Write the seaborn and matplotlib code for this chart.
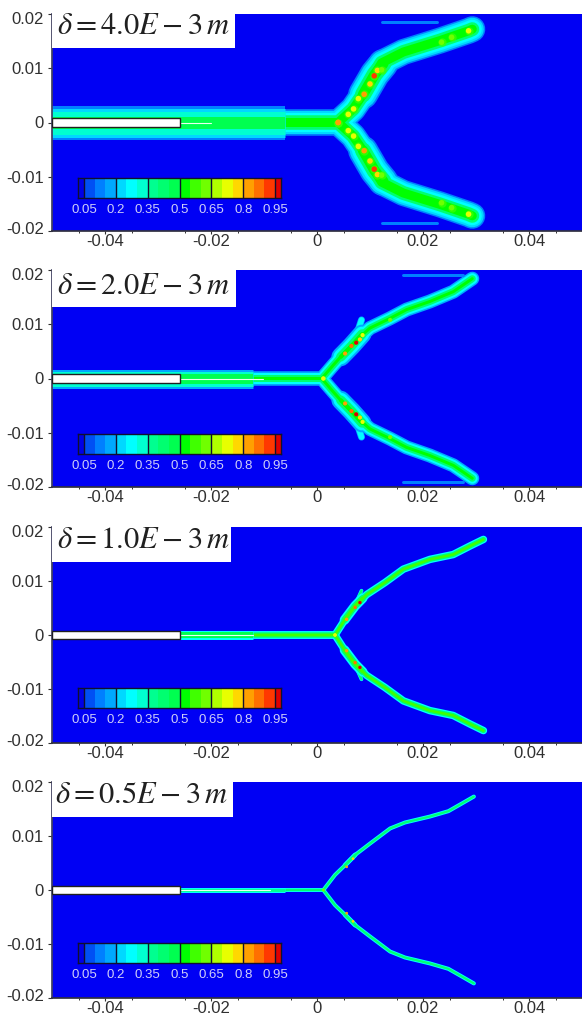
import matplotlib
matplotlib.use('Agg')
import matplotlib.pyplot as plt
import numpy as np
import pandas as pd
import seaborn as sns
from matplotlib.colors import ListedColormap
from matplotlib.patches import Rectangle
from matplotlib.transforms import ScaledTranslation

W, H = 582, 1015

# contour levels of the legend, 0 to 1 in steps of 0.05
level_colors = ['#0000e8', '#0050f4', '#0080ff', '#00a8ff', '#00d8ff', '#00ffff', '#00ffd0',
                '#00ff90', '#00ff70', '#00ff50', '#00ff00', '#40ff00', '#70ff00', '#b0ff00',
                '#e8ff00', '#ffd800', '#ffa000', '#ff7000', '#ff3800', '#e00000']
level_labels = ['0.05', '0.2', '0.35', '0.5', '0.65', '0.8', '0.95']
level_lines = [1, 4, 7, 10, 13, 16, 19]
background = '#0000f4'

titles = [r'$\delta = 4.0E - 3\,m$', r'$\delta = 2.0E - 3\,m$',
          r'$\delta = 1.0E - 3\,m$', r'$\delta = 0.5E - 3\,m$']

x_ticks = [-0.04, -0.02, 0, 0.02, 0.04]
x_labels = ['-0.04', '-0.02', '0', '0.02', '0.04']
y_ticks = [0.02, 0.01, 0, -0.01, -0.02]
y_labels = ['0.02', '0.01', '0', '-0.01', '-0.02']

# upper crack branch, lower one is its mirror
arm1_x = [-0.006, 0.004, 0.0068, 0.0087, 0.0109, 0.0122, 0.0163, 0.0232, 0.0286, 0.0293]
arm1_y = [0, 0, 0.0025, 0.0052, 0.0089, 0.011, 0.013, 0.0151, 0.0169, 0.0172]
arm2_x = [-0.012, 0.0009, 0.0031, 0.0053, 0.0078, 0.01, 0.0138, 0.0169, 0.0213, 0.0257, 0.0293]
arm2_y = [0, 0, 0.0025, 0.0049, 0.0074, 0.0093, 0.0111, 0.0127, 0.0142, 0.016, 0.0184]
arm3_x = [-0.012, 0.0034, 0.0053, 0.0072, 0.0094, 0.0128, 0.0163, 0.0213, 0.0257, 0.0289, 0.0314]
arm3_y = [0, 0, 0.0029, 0.0054, 0.0075, 0.0097, 0.0122, 0.014, 0.0149, 0.0165, 0.0177]
arm4_x = [-0.006, 0.0012, 0.0034, 0.0053, 0.0072, 0.01, 0.0138, 0.0166, 0.0213, 0.0248, 0.0273, 0.0296]
arm4_y = [0, 0, 0.0028, 0.0046, 0.0065, 0.0086, 0.0114, 0.0125, 0.0136, 0.0146, 0.016, 0.0173]

# thicker stretch of the branch just past the kink
bulge1_x, bulge1_y = [0.0087, 0.0109, 0.0125], [0.0052, 0.0089, 0.0108]
bulge2_x, bulge2_y = [0.0045, 0.0065, 0.0085], [0.0040, 0.0060, 0.0082]
bulge3_x, bulge3_y = [0.0052, 0.0072, 0.0086], [0.0028, 0.0054, 0.0068]
bulge4_x, bulge4_y = [0.0053, 0.0072], [0.0046, 0.0065]

# side fins of the branch
fin1_x, fin1_y = [0.0095, 0.0112], [0.0072, 0.0105]
fin2_x, fin2_y = [0.0072, 0.0084], [0.0072, 0.0108]
fin3_x, fin3_y = [0.0072, 0.0084], [0.0056, 0.0082]
fin4_x, fin4_y = [0.0055, 0.0072], [0.0046, 0.0066]

# hot spots along the branch
hot1_x = [0.004, 0.0059, 0.0069, 0.0078, 0.0089, 0.01, 0.0108, 0.0114, 0.0122, 0.0235, 0.0254, 0.0286]
hot1_y = [0, 0.0015, 0.0025, 0.0044, 0.0052, 0.0071, 0.0086, 0.0096, 0.0097, 0.0148, 0.0157, 0.0169]
hot1_v = [0.82, 0.7, 0.72, 0.72, 0.82, 0.78, 0.9, 0.78, 0.62, 0.62, 0.62, 0.72]
hot2_x = [0.0012, 0.0053, 0.0065, 0.0074, 0.0081, 0.0086, 0.0138]
hot2_y = [0, 0.0046, 0.006, 0.0066, 0.0072, 0.008, 0.0108]
hot2_v = [0.7, 0.8, 0.85, 0.97, 0.75, 0.7, 0.6]
hot3_x = [0.0034, 0.0056, 0.0072, 0.0081]
hot3_y = [0, 0.0029, 0.0051, 0.006]
hot3_v = [0.72, 0.8, 0.88, 0.97]
hot4_x = [0.0012, 0.0056, 0.0068]
hot4_y = [0, 0.0043, 0.0058]
hot4_v = [0.6, 0.82, 0.75]

# band widths (px) and levels, outer to inner
stem_widths = [[34, 29, 23, 12], [19, 15, 10], [9, 6], [5, 3]]
stem_values = [[0.1, 0.22, 0.33, 0.47], [0.15, 0.3, 0.45], [0.25, 0.47], [0.25, 0.38]]
arm_widths = [[26, 23, 19, 14, 9], [14, 11, 7, 3], [7.5, 5, 2.5], [4, 2.2]]
arm_values = [[0.12, 0.2, 0.28, 0.42, 0.5], [0.15, 0.28, 0.42, 0.5], [0.25, 0.42, 0.55], [0.28, 0.4]]
bulge_scale = [1.15, 1.35, 1.3, 1.2]
hot_sizes = [16, 9, 6, 4]
core_end = [-0.02, -0.0102, -0.012, -0.0088]
fringe_x = [[0.0122, 0.0226], [0.0163, 0.0276], None, None]
fringe_y = [0.0186, 0.019, None, None]

# pixel rows of each panel
panel_top = [14, 270, 527, 782]
panel_bottom = [231, 487, 743, 998]
box_right = [235, 236, 231, 233]
box_bottom = [47.5, 307, 562, 817]
title_base = [34, 294, 548, 803]
title_left = [57, 57, 57, 55]
bar_top = [178, 434, 688, 943]

notch_x = [-0.05, -0.0258]
notch_half = 0.0008

arms_x = [arm1_x, arm2_x, arm3_x, arm4_x]
arms_y = [arm1_y, arm2_y, arm3_y, arm4_y]
bulges_x = [bulge1_x, bulge2_x, bulge3_x, bulge4_x]
bulges_y = [bulge1_y, bulge2_y, bulge3_y, bulge4_y]
fins_x = [fin1_x, fin2_x, fin3_x, fin4_x]
fins_y = [fin1_y, fin2_y, fin3_y, fin4_y]
hots_x = [hot1_x, hot2_x, hot3_x, hot4_x]
hots_y = [hot1_y, hot2_y, hot3_y, hot4_y]
hots_v = [hot1_v, hot2_v, hot3_v, hot4_v]

sns.set_theme(style='ticks')
plt.rcParams['font.family'] = ['Liberation Sans', 'DejaVu Sans']
plt.rcParams['mathtext.fontset'] = 'stix'

cmap = ListedColormap(level_colors)


def px_axes(fig, left, top, right, bottom):
    return fig.add_axes([left / W, 1 - bottom / H, (right - left) / W, (bottom - top) / H])


def band(ax, xs, ys, width, color, cap='round'):
    sns.lineplot(x=xs, y=ys, sort=False, estimator=None, ax=ax, legend=False,
                 color=color, linewidth=width * 0.72,
                 solid_capstyle=cap, solid_joinstyle='round')


fig = plt.figure(figsize=(W / 100, H / 100), dpi=100)

for i in range(4):
    ax = px_axes(fig, 52, panel_top[i], 582, panel_bottom[i])
    ax.set_facecolor(background)
    ax.set_xlim(-0.05, 0.05)
    ax.set_ylim(-0.02, 0.02)

    xa = arms_x[i]
    ya = np.array(arms_y[i])
    # fins only show the outer levels, so they go under the branch
    for w, v in zip(arm_widths[i][:2], arm_values[i][:2]):
        for sign in (1, -1):
            band(ax, fins_x[i], sign * np.array(fins_y[i]), w * 0.5, cmap(v))
    for w, v in zip(arm_widths[i], arm_values[i]):
        for sign in (1, -1):
            band(ax, xa, sign * ya, w, cmap(v))
            band(ax, bulges_x[i], sign * np.array(bulges_y[i]), w * bulge_scale[i], cmap(v))
    for w, v in zip(stem_widths[i], stem_values[i]):
        band(ax, [-0.05, xa[0]], [0, 0], w, cmap(v), cap='butt')

    if fringe_x[i] is not None:
        for sign in (1, -1):
            band(ax, fringe_x[i], [sign * fringe_y[i]] * 2, 3, cmap(0.12))

    band(ax, [notch_x[1], core_end[i]], [0, 0], 1.1, '#e8fff0')

    for sign in (1, -1):
        if i == 0:
            sns.scatterplot(x=hots_x[i], y=sign * np.array(hots_y[i]), color=cmap(0.58),
                            marker='o', s=hot_sizes[i] * 2.2, linewidth=0, alpha=0.7,
                            legend=False, ax=ax, zorder=4)
        sns.scatterplot(x=hots_x[i], y=sign * np.array(hots_y[i]), hue=hots_v[i],
                        hue_norm=(0, 1), palette=cmap, marker='o', s=hot_sizes[i],
                        linewidth=0, legend=False, ax=ax, zorder=5)

    ax.add_patch(Rectangle((notch_x[0], -notch_half), notch_x[1] - notch_x[0], 2 * notch_half,
                           facecolor='white', edgecolor='#202020', linewidth=1, zorder=6))

    for s in ('top', 'right'):
        ax.spines[s].set_visible(False)
    ax.spines['left'].set_color('#404060')
    ax.spines['bottom'].set_color('#303040')
    ax.set_xticks(x_ticks, x_labels)
    ax.set_yticks(y_ticks, y_labels)
    ax.set_xticks(np.arange(-0.045, 0.05, 0.01), minor=True)
    ax.tick_params(axis='y', which='major', labelsize=12, length=3, width=0.8, pad=3,
                   colors='#303030')
    ax.tick_params(axis='x', which='major', labelsize=12, length=2, width=0.8, pad=0.5,
                   colors='#303030')
    ax.tick_params(axis='x', which='minor', length=1.5, width=0.7, colors='#303030')
    # end labels sit a little inside the axis range
    labels = ax.get_yticklabels()
    labels[0].set_transform(labels[0].get_transform() + ScaledTranslation(0, -3 / 72, fig.dpi_scale_trans))
    labels[-1].set_transform(labels[-1].get_transform() + ScaledTranslation(0, 2 / 72, fig.dpi_scale_trans))

    # white title box covering the top left of the panel
    fig.add_artist(Rectangle((52 / W, 1 - box_bottom[i] / H), (box_right[i] - 52) / W,
                             (box_bottom[i] - panel_top[i] + 2) / H, transform=fig.transFigure,
                             facecolor='white', edgecolor='none', zorder=10))
    fig.text(title_left[i] / W, 1 - title_base[i] / H, titles[i], fontsize=22, color='#202020',
             ha='left', va='baseline', zorder=11)

    # legend strip
    cax = px_axes(fig, 78, bar_top[i], 281, bar_top[i] + 20)
    strip = pd.DataFrame([np.arange(len(level_colors))])
    sns.heatmap(strip, cmap=cmap, cbar=False, ax=cax, xticklabels=False, yticklabels=False,
                vmin=-0.5, vmax=len(level_colors) - 0.5)
    cax.set_xlim(0.44, 19.56)
    cax.vlines(level_lines, 0, 1, color='#101030', linewidth=1)
    cax.set_xticks(level_lines, level_labels)
    cax.tick_params(axis='x', length=0, labelsize=9.5, colors='#cfcff8', pad=4.5)
    cax.tick_params(axis='y', length=0)
    for s in cax.spines.values():
        s.set_visible(True)
        s.set_color('#101030')
        s.set_linewidth(1)

fig.savefig('out.png', dpi=100)
